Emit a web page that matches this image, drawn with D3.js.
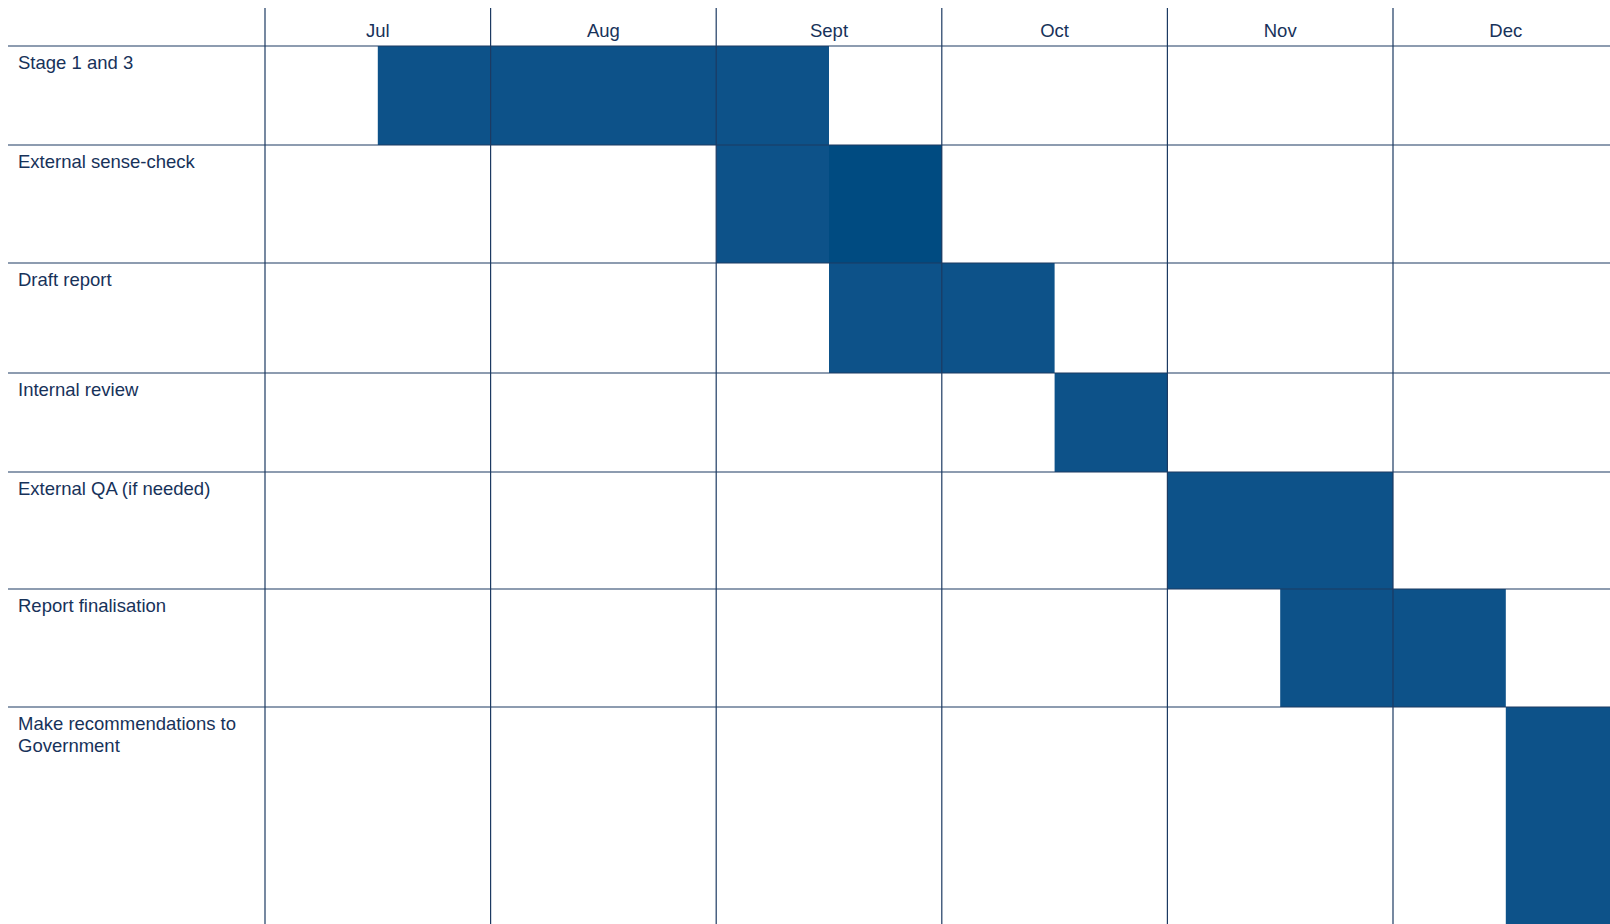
<!DOCTYPE html>
<html lang="en">
<head>
    <meta charset="UTF-8">
    <title>Timeline</title>
    <script src="https://d3js.org/d3.v7.min.js"></script>
    <style>
        body { margin: 0; background: #fff; }
        svg { display: block; }
    </style>
</head>
<body>
    <svg width="1610" height="924"></svg>
    <script>
        // months across the top, tasks down the side
        const months = ['Jul', 'Aug', 'Sept', 'Oct', 'Nov', 'Dec'];
        const tasks = ['Stage 1 and 3', 'External sense-check', 'Draft report', 'Internal review',
                       'External QA (if needed)', 'Report finalisation', 'Make recommendations to Government'];
        // start / end in half-months from start of Jul
        const starts = [1, 4, 5, 7, 8, 9, 11];
        const ends   = [5, 6, 7, 8, 10, 11, 12];
        // half-month cells drawn darker (task index, half-month)
        const darkCells = [[1, 5]];

        // layout
        const rowEdges = [46, 145, 263, 373, 472, 589, 707, 924];
        const left = 265, monthW = 225.6;
        const lineCol = '#1c3a62', textCol = '#17325a';
        const barCol = '#0d5289', darkCol = '#004b81';
        const font = 'Liberation Sans, Arial, sans-serif';

        const svg = d3.select('svg');

        const x = d3.scaleLinear()
                    .domain([0, months.length * 2])
                    .range([left, left + months.length * monthW]);
        const y = d3.scaleOrdinal()
                    .domain(tasks)
                    .range(rowEdges.slice(0, tasks.length));
        const yEnd = d3.scaleOrdinal()
                    .domain(tasks)
                    .range(rowEdges.slice(1));

        // bars
        svg.selectAll('rect.bar')
            .data(tasks)
            .enter()
            .append('rect')
            .attr('class', 'bar')
            .attr('x', (d, i) => x(starts[i]))
            .attr('width', (d, i) => x(ends[i]) - x(starts[i]))
            .attr('y', d => y(d))
            .attr('height', d => yEnd(d) - y(d))
            .attr('fill', barCol);

        svg.selectAll('rect.dark')
            .data(darkCells)
            .enter()
            .append('rect')
            .attr('x', d => x(d[1]))
            .attr('width', x(1) - x(0))
            .attr('y', d => y(tasks[d[0]]))
            .attr('height', d => yEnd(tasks[d[0]]) - y(tasks[d[0]]))
            .attr('fill', darkCol);

        // grid lines on top
        svg.selectAll('line.h')
            .data(tasks)
            .enter()
            .append('line')
            .attr('x1', 8).attr('x2', 1610)
            .attr('y1', d => y(d)).attr('y2', d => y(d))
            .attr('stroke', lineCol)
            .attr('stroke-width', 1.2);

        svg.selectAll('line.v')
            .data(d3.range(months.length))
            .enter()
            .append('line')
            .attr('x1', d => x(d * 2)).attr('x2', d => x(d * 2))
            .attr('y1', 8).attr('y2', 924)
            .attr('stroke', lineCol)
            .attr('stroke-width', 1.2);

        // month labels
        svg.selectAll('text.month')
            .data(months)
            .enter()
            .append('text')
            .attr('x', (d, i) => x(i * 2 + 1))
            .attr('y', 37)
            .attr('text-anchor', 'middle')
            .attr('font-family', font)
            .attr('font-size', 18.5)
            .attr('fill', textCol)
            .text(d => d);

        // task labels, wrapped
        const labels = svg.selectAll('text.task')
            .data(tasks)
            .enter()
            .append('text')
            .attr('x', 18)
            .attr('y', d => y(d) + 23)
            .attr('font-family', font)
            .attr('font-size', 18.5)
            .attr('fill', textCol);

        labels.each(function(d) {
            const el = d3.select(this);
            const lines = d === 'Make recommendations to Government'
                ? ['Make recommendations to', 'Government'] : [d];
            lines.forEach((t, k) => {
                el.append('tspan').attr('x', 18).attr('dy', k ? 21.5 : 0).text(t);
            });
        });
    </script>
</body>
</html>
